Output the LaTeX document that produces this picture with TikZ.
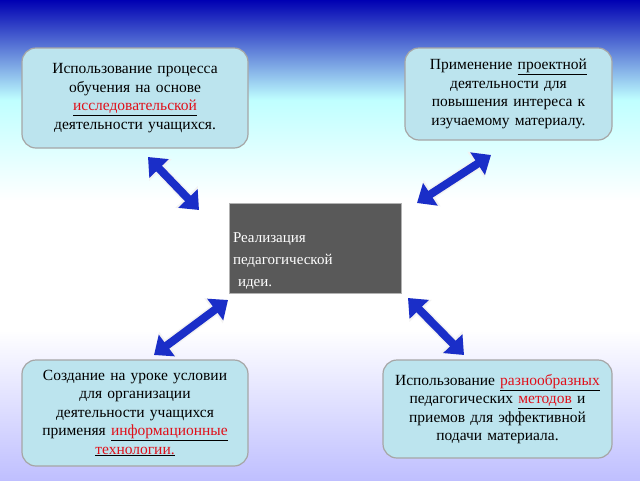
\documentclass[tikz,border=0pt]{standalone}
\usepackage{fontspec}
\setmainfont{Liberation Serif}
\usetikzlibrary{arrows.meta}
\definecolor{boxfill}{HTML}{BCE4EE}
\definecolor{arrblue}{HTML}{1A2EC8}
\definecolor{redw}{HTML}{E0101A}
\newcommand{\rw}[1]{\underline{\textcolor{redw}{#1}}}
\tikzset{
 infobox/.style={draw=gray!70,line width=1.2pt,fill=boxfill,rounded corners=14pt,align=center,font=\fontsize{15.5}{18.5}\selectfont,inner sep=2pt},
 dbl/.style={line width=8pt,draw=arrblue,{Triangle[length=16pt,width=26pt]}-{Triangle[length=16pt,width=26pt]}},
 dblw/.style={line width=11pt,draw=white!90!gray,{Triangle[length=18pt,width=30pt]}-{Triangle[length=18pt,width=30pt]}}
}
\begin{document}
\begin{tikzpicture}[x=1pt,y=-1pt]
\useasboundingbox (0,0) rectangle (640,480);
\shade[top color=blue!70!black,bottom color=white,middle color=cyan!25!white] (0,0) rectangle (640,200);
\fill[white] (0,200) rectangle (640,330);
\shade[top color=white,bottom color=blue!25!white] (0,330) rectangle (640,480);
\node[infobox,minimum width=226pt,minimum height=100pt,text width=222pt] (tl) at (135,98) {Использование  процесса\\ обучения на основе\\ \rw{исследовательской}\\ деятельности учащихся.};
\node[infobox,minimum width=207pt,minimum height=92pt,text width=203pt] (tr) at (508.5,94) {Применение \underline{проектной}\\ деятельности  для\\ повышения интереса к\\ изучаемому материалу.};
\node[infobox,minimum width=226pt,minimum height=106pt,text width=222pt] (bl) at (135,413) {Создание на уроке условии\\ для организации\\ деятельности учащихся\\ применяя \rw{информационные}\\ \rw{технологии.}};
\node[infobox,minimum width=229pt,minimum height=98pt,text width=225pt] (br) at (497.5,409) {Использование \rw{разнообразных}\\ педагогических \rw{методов} и\\ приемов для эффективной\\ подачи материала.};
\node[draw=gray!60,fill=black!65,minimum width=172pt,minimum height=90pt] (c) at (315,248) {};
\node[text width=166pt,align=left,text=white,font=\fontsize{15}{22}\selectfont,inner sep=0pt] (ct) at (316,261) {Реализация\\ педагогической\\ \ идеи.};
\coordinate (a1) at (148,157); \coordinate (a2) at (199,210);
\coordinate (b1) at (491,155); \coordinate (b2) at (417,203);
\coordinate (c1) at (228,300); \coordinate (c2) at (154,355);
\coordinate (d1) at (408,298); \coordinate (d2) at (464,355);
\foreach \p/\q in {a1/a2,b1/b2,c1/c2,d1/d2}{
 \draw[dblw] (\p) -- (\q);
 \draw[dbl] (\p) -- (\q);
}
\end{tikzpicture}
\end{document}
